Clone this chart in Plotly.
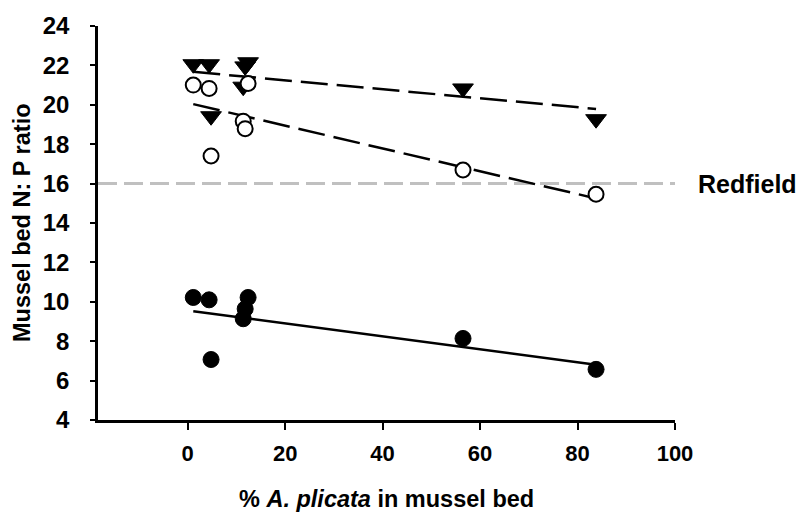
import plotly.graph_objects as go

# % A. plicata cover in each mussel bed
pct_plicata = [1.15, 4.4, 4.8, 11.4, 11.8, 12.4, 56.5, 83.8]

# N:P ratios per mussel bed for the three groups
np_triangle = [22.06, 22.06, 19.42, 20.92, 21.95, 22.16, 20.83, 19.27]
np_open = [21.0, 20.83, 17.4, 19.17, 18.79, 21.08, 16.69, 15.46]
np_filled = [10.22, 10.1, 7.07, 9.14, 9.64, 10.22, 8.14, 6.57]

# least-squares trend lines: (intercept, slope)
fit_triangle = (21.70, -0.0228)
fit_open = (20.10, -0.0579)
fit_filled = (9.56, -0.0329)

redfield_ratio = 16
x_ticks = [0, 20, 40, 60, 80, 100]
y_ticks = [4, 6, 8, 10, 12, 14, 16, 18, 20, 22, 24]
x_range = [-18.4, 100]
y_range = [4, 24]

FONT = "Liberation Sans, Arial, sans-serif"

fig = go.Figure()

x_lo, x_hi = min(pct_plicata), max(pct_plicata)


def trend(fit, dash, name):
    b, m = fit
    return go.Scatter(
        x=[x_lo, x_hi], y=[b + m * x_lo, b + m * x_hi],
        mode="lines", name=name, showlegend=False, hoverinfo="skip",
        line=dict(color="black", width=2.5, dash=dash),
    )


fig.add_trace(trend(fit_triangle, "27px,9px", "trend triangles"))
fig.add_trace(trend(fit_open, "27px,9px", "trend open"))
fig.add_trace(trend(fit_filled, "solid", "trend filled"))

fig.add_trace(go.Scatter(
    x=pct_plicata, y=np_filled, mode="markers", showlegend=False,
    marker=dict(symbol="circle", size=16, color="black",
                line=dict(color="black", width=1)),
))
fig.add_trace(go.Scatter(
    x=pct_plicata, y=np_triangle, mode="markers", showlegend=False,
    marker=dict(symbol="triangle-down", size=18, color="black",
                line=dict(color="black", width=1)),
))
fig.add_trace(go.Scatter(
    x=pct_plicata, y=np_open, mode="markers", showlegend=False,
    marker=dict(symbol="circle", size=15, color="white",
                line=dict(color="black", width=2)),
))

# Redfield reference ratio
fig.add_shape(
    type="line", xref="x", yref="y",
    x0=x_range[0], x1=x_range[1], y0=redfield_ratio, y1=redfield_ratio,
    line=dict(color="#c0c0c0", width=3, dash="19px,7px"),
    layer="below",
)
fig.add_annotation(
    text="Redfield", xref="paper", yref="y", x=1.036, y=redfield_ratio,
    xanchor="left", yanchor="middle", showarrow=False,
    font=dict(family=FONT, size=25, color="black", weight="bold"),
)

# axis titles
fig.add_annotation(
    text="% <i>A. plicata</i> in mussel bed", xref="paper", yref="paper",
    x=0.5, y=-0.2, xanchor="center", yanchor="middle", showarrow=False,
    font=dict(family=FONT, size=23.5, color="black", weight="bold"),
)
fig.add_annotation(
    text="Mussel bed N: P ratio", xref="paper", yref="paper",
    x=-0.1317, y=0.5, xanchor="center", yanchor="middle", textangle=-90,
    showarrow=False,
    font=dict(family=FONT, size=23.5, color="black", weight="bold"),
)

x_font = dict(family=FONT, size=22, color="black", weight="bold")
y_font = dict(family=FONT, size=24, color="black", weight="bold")

fig.update_layout(
    width=804, height=519,
    margin=dict(l=98, r=129, t=18, b=99),
    paper_bgcolor="white", plot_bgcolor="white",
    xaxis=dict(
        range=x_range, tickvals=x_ticks, ticktext=[str(v) for v in x_ticks],
        showgrid=False, zeroline=False, showline=True, linecolor="black",
        linewidth=2.5, ticks="outside", ticklen=7, tickwidth=2,
        tickcolor="black", tickfont=x_font, ticklabelstandoff=5,
    ),
    yaxis=dict(
        range=y_range, tickvals=y_ticks, ticktext=[str(v) for v in y_ticks],
        showgrid=False, zeroline=False, showline=True, linecolor="black",
        linewidth=2.5, ticks="outside", ticklen=5, tickwidth=2,
        tickcolor="black", tickfont=y_font, ticklabelstandoff=16,
    ),
)

fig.write_html("out.html")
